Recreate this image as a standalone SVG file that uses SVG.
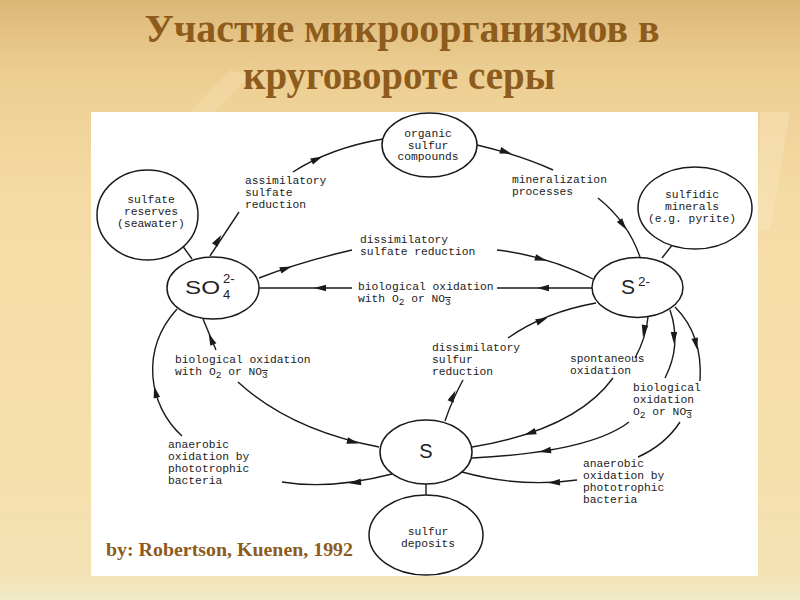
<svg xmlns="http://www.w3.org/2000/svg" xmlns:xlink="http://www.w3.org/1999/xlink" width="800" height="600" viewBox="0 0 800 600">
<defs>
<linearGradient id="bg" x1="0" y1="0" x2="0" y2="1">
<stop offset="0" stop-color="#dcb877"/>
<stop offset="0.12" stop-color="#ecce92"/>
<stop offset="0.35" stop-color="#f5dca6"/>
<stop offset="0.8" stop-color="#f6e0ad"/>
<stop offset="0.96" stop-color="#f3e2b4"/>
<stop offset="1" stop-color="#efeac8"/>
</linearGradient>
<path id="ah" d="M6,0 L-6,-3.3 L-6,3.3 Z" fill="#1a1a1a"/>
<style>
.nd{fill:#fff;stroke:#1a1a1a;stroke-width:1.5}
.ln{fill:none;stroke:#1a1a1a;stroke-width:1.4}
.t{font-family:"Liberation Mono","DejaVu Sans Mono",monospace;font-size:11.3px;fill:#222}
.sb{font-size:9.5px}
.ov{font-size:9.5px;text-decoration:overline}
.big{font-family:"Liberation Sans","DejaVu Sans",sans-serif;fill:#222}
.title{font-family:"Liberation Serif","Times New Roman",serif;font-weight:bold;fill:#8d5b1c;text-anchor:middle}
</style>
</defs>
<rect x="0" y="0" width="800" height="600" fill="url(#bg)"/>
<polygon points="760,112 790,112 770,230 758,230" fill="#fbe9c0" opacity="0.4"/>
<polygon points="190,112 230,70 250,76 215,112" fill="#fae6b8" opacity="0.3"/>
<text class="title" x="402" y="42" font-size="40" textLength="515" lengthAdjust="spacingAndGlyphs">Участие микроорганизмов в</text>
<text class="title" x="399" y="89" font-size="40" textLength="312" lengthAdjust="spacingAndGlyphs">круговороте серы</text>
<rect x="91" y="112" width="667" height="464" fill="#fff"/>

<g id="connectors">
<line class="ln" x1="182" y1="245" x2="192" y2="259"/>
<line class="ln" x1="662" y1="258" x2="673" y2="244"/>
<line class="ln" x1="426" y1="484" x2="426" y2="495"/>
<path class="ln" d="M210,256 L239,212"/>
<path class="ln" d="M293,172 Q330,148 383,139"/>
<path class="ln" d="M477,145 Q520,155 553,170"/>
<path class="ln" d="M598,198 Q628,222 640,257"/>
<path class="ln" d="M259,278 Q300,262 352,250"/>
<path class="ln" d="M497,250 Q548,256 593,279"/>
<path class="ln" d="M259,288 L352,288"/>
<path class="ln" d="M497,288 L592,288"/>
<path class="ln" d="M508,338 Q545,312 596,303"/>
<path class="ln" d="M445,421 Q452,400 463,380"/>
<path class="ln" d="M648,317 Q646,338 635,358"/>
<path class="ln" d="M613,378 Q575,430 472,447"/>
<path class="ln" d="M670,310 Q682,345 665,378"/>
<path class="ln" d="M629,422 Q590,452 472,458"/>
<path class="ln" d="M675,307 Q703,335 700,381"/>
<path class="ln" d="M680,422 Q665,445 638,457"/>
<path class="ln" d="M577,480 Q520,488 462,472"/>
<path class="ln" d="M182,436 C148,405 140,350 177,309"/>
<path class="ln" d="M392,474 Q330,490 282,482"/>
<path class="ln" d="M203,319 L216,350"/>
<path class="ln" d="M238,382 Q290,430 379,447"/>
<use xlink:href="#ah" transform="translate(218,240) rotate(-57)"/>
<use xlink:href="#ah" transform="translate(317,159) rotate(-25)"/>
<use xlink:href="#ah" transform="translate(506,152) rotate(17)"/>
<use xlink:href="#ah" transform="translate(623,225) rotate(54)"/>
<use xlink:href="#ah" transform="translate(286,268.5) rotate(-19)"/>
<use xlink:href="#ah" transform="translate(541,259) rotate(16)"/>
<use xlink:href="#ah" transform="translate(320,288) rotate(180)"/>
<use xlink:href="#ah" transform="translate(543,288) rotate(180)"/>
<use xlink:href="#ah" transform="translate(542,320) rotate(-23)"/>
<use xlink:href="#ah" transform="translate(453,396) rotate(-66)"/>
<use xlink:href="#ah" transform="translate(644,331) rotate(100)"/>
<use xlink:href="#ah" transform="translate(530,433) rotate(161)"/>
<use xlink:href="#ah" transform="translate(674,338) rotate(90)"/>
<use xlink:href="#ah" transform="translate(545,451) rotate(171)"/>
<use xlink:href="#ah" transform="translate(696,344) rotate(78)"/>
<use xlink:href="#ah" transform="translate(554,482.5) rotate(177)"/>
<use xlink:href="#ah" transform="translate(155.5,392) rotate(-103)"/>
<use xlink:href="#ah" transform="translate(355,482.5) rotate(174)"/>
<use xlink:href="#ah" transform="translate(211,339) rotate(-113)"/>
<use xlink:href="#ah" transform="translate(353,442) rotate(14)"/>
</g>

<g id="labels" class="t">
<text x="245" y="184">assimilatory</text>
<text x="245" y="196">sulfate</text>
<text x="245" y="208">reduction</text>
<text x="512" y="183">mineralization</text>
<text x="512" y="195">processes</text>
<text x="360" y="243">dissimilatory</text>
<text x="360" y="255">sulfate reduction</text>
<text x="358" y="290">biological oxidation</text>
<text x="358" y="302">with O<tspan class="sb" dy="3">2</tspan><tspan dy="-3"> or NO</tspan><tspan class="ov" dy="3">3</tspan></text>
<text x="432" y="351">dissimilatory</text>
<text x="432" y="363">sulfur</text>
<text x="432" y="375">reduction</text>
<text x="570" y="362">spontaneous</text>
<text x="570" y="374">oxidation</text>
<text x="633" y="391">biological</text>
<text x="633" y="403">oxidation</text>
<text x="633" y="415">O<tspan class="sb" dy="3">2</tspan><tspan dy="-3"> or NO</tspan><tspan class="ov" dy="3">3</tspan></text>
<text x="583" y="467">anaerobic</text>
<text x="583" y="479">oxidation by</text>
<text x="583" y="491">phototrophic</text>
<text x="583" y="503">bacteria</text>
<text x="175" y="363">biological oxidation</text>
<text x="175" y="375">with O<tspan class="sb" dy="3">2</tspan><tspan dy="-3"> or NO</tspan><tspan class="ov" dy="3">3</tspan></text>
<text x="168" y="448">anaerobic</text>
<text x="168" y="460">oxidation by</text>
<text x="168" y="472">phototrophic</text>
<text x="168" y="484">bacteria</text>
</g>

<g id="organic">
<ellipse class="nd" cx="429.5" cy="145" rx="47.5" ry="32"/>
<text class="t" x="428" y="137" text-anchor="middle">organic</text>
<text class="t" x="428" y="148.5" text-anchor="middle">sulfur</text>
<text class="t" x="428" y="160" text-anchor="middle">compounds</text>
</g>
<g id="sulfate-reserves">
<ellipse class="nd" cx="147.5" cy="215" rx="50.5" ry="45"/>
<text class="t" x="151" y="203" text-anchor="middle">sulfate</text>
<text class="t" x="151" y="215" text-anchor="middle">reserves</text>
<text class="t" x="151" y="227" text-anchor="middle">(seawater)</text>
</g>
<g id="sulfidic-minerals">
<ellipse class="nd" cx="695" cy="208" rx="57" ry="41"/>
<text class="t" x="692" y="198" text-anchor="middle">sulfidic</text>
<text class="t" x="692" y="210" text-anchor="middle">minerals</text>
<text class="t" x="692" y="222" text-anchor="middle">(e.g. pyrite)</text>
</g>
<g id="so4">
<ellipse class="nd" cx="213" cy="288" rx="46" ry="31"/>
<text class="big" x="185" y="293.5" font-size="19" textLength="35" lengthAdjust="spacingAndGlyphs">SO</text>
<text class="big" x="223" y="283" font-size="13">2-</text>
<text class="big" x="223" y="298.5" font-size="13">4</text>
</g>
<g id="s2">
<ellipse class="nd" cx="637.5" cy="287.5" rx="45.5" ry="30"/>
<text class="big" x="621" y="294" font-size="21">S</text>
<text class="big" x="638" y="286" font-size="13.5">2-</text>
</g>
<g id="s">
<ellipse class="nd" cx="426" cy="452" rx="46" ry="32"/>
<text class="big" x="426" y="458" font-size="20" text-anchor="middle">S</text>
</g>
<g id="sulfur-deposits">
<ellipse class="nd" cx="426" cy="535" rx="57" ry="40"/>
<text class="t" x="428" y="535" text-anchor="middle">sulfur</text>
<text class="t" x="428" y="547" text-anchor="middle">deposits</text>
</g>
<text x="106" y="556" font-family="Liberation Serif,'Times New Roman',serif" font-weight="bold" font-size="19" fill="#8d5b1c" textLength="247" lengthAdjust="spacingAndGlyphs">by: Robertson, Kuenen, 1992</text>
</svg>
